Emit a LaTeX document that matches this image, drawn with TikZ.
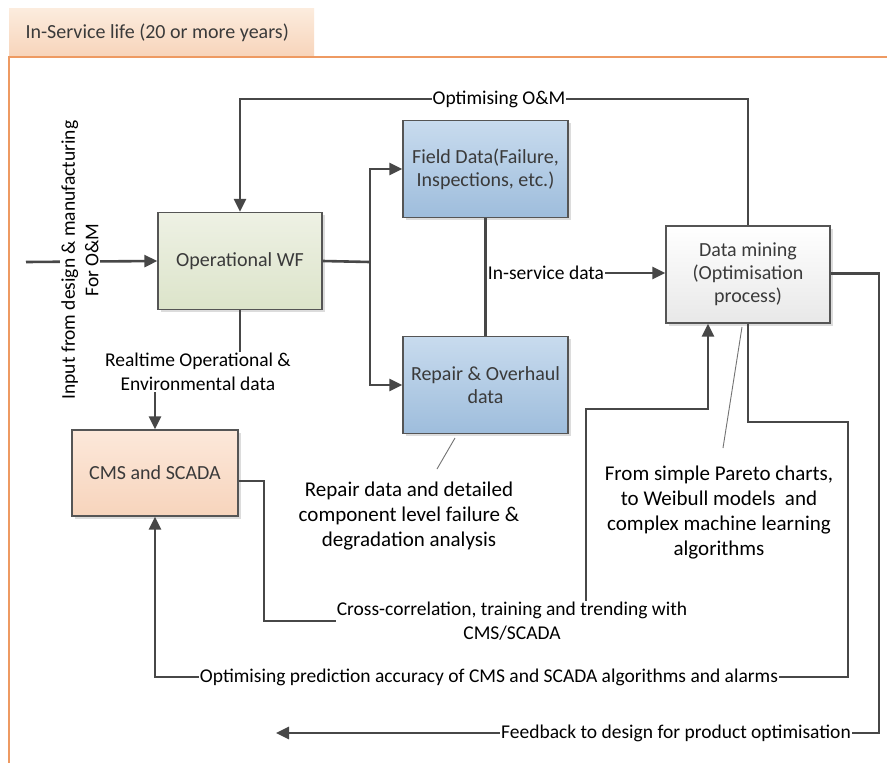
\documentclass[tikz,border=0pt]{standalone}
\usepackage{fontspec}
\setmainfont{Carlito}
\usetikzlibrary{arrows.meta,shadows}
\definecolor{lineg}{HTML}{474747}
\definecolor{boxline}{HTML}{555555}
\definecolor{boxtext}{HTML}{3A3A3A}
\definecolor{frameorange}{HTML}{EE9A62}
\tikzset{
  boxbase/.style={draw=boxline, line width=1.3pt, minimum width=164pt, minimum height=97pt,
    align=center, text=boxtext, font=\fontsize{20}{23}\selectfont,
    drop shadow={shadow xshift=2.5pt, shadow yshift=-2.5pt, fill=black!30, opacity=.45}},
  opbox/.style={boxbase, top color={rgb,255:red,238;green,241;blue,228}, bottom color={rgb,255:red,220;green,228;blue,202}},
  bluebox/.style={boxbase, minimum width=165pt, top color={rgb,255:red,200;green,219;blue,238}, bottom color={rgb,255:red,158;green,189;blue,220}},
  dmbox/.style={boxbase, top color=white, bottom color=black!9},
  cmsbox/.style={boxbase, minimum width=166pt, minimum height=86pt, top color={rgb,255:red,252;green,232;blue,218}, bottom color={rgb,255:red,247;green,212;blue,188}},
  conn/.style={draw=lineg, line width=2.6pt},
  arr/.style={conn, -{Triangle[length=13pt,width=12pt]}},
  lab/.style={fill=white, inner sep=1pt, align=center, text=black, font=\fontsize{19.5}{23.5}\selectfont},
  note/.style={align=center, text=black, font=\fontsize{21}{25}\selectfont},
  callout/.style={draw=black!55, line width=0.9pt}
}
\begin{document}
\begin{tikzpicture}[x=1pt,y=-1pt]
\useasboundingbox (0,0) rectangle (887,763);
\fill[white] (0,0) rectangle (887,763);

% header tab and frame
\shade[top color={rgb,255:red,252;green,236;blue,222}, bottom color={rgb,255:red,247;green,212;blue,186}] (9,8) rectangle (314,57);
\node[anchor=west, text=boxtext, font=\fontsize{20}{24}\selectfont] (tabtext) at (22,33) {In-Service life (20 or more years)};
\draw[frameorange, line width=1.4pt] (887,57) -- (9,57) -- (9,763);

% main blocks
\node[opbox]  (op)     at (240,261)   {Operational WF};
\node[bluebox] (field) at (485.5,169) {Field Data(Failure,\\Inspections, etc.)};
\node[bluebox] (repair) at (485.5,385) {Repair \& Overhaul\\data};
\node[dmbox]  (dm)     at (748,274.5) {Data mining\\(Optimisation\\process)};
\node[cmsbox] (cms)    at (155,473)   {CMS and SCADA};

% branch points and route corners
\coordinate (inL)   at (26,262);
\coordinate (split) at (370,262);
\coordinate (omL)   at (240,99);
\coordinate (omR)   at (748,99);
\coordinate (rtA)   at (240,372);
\coordinate (rtB)   at (155,372);
\coordinate (mid)   at (486,273);
\coordinate (fbA)   at (879,273.5);
\coordinate (fbB)   at (879,733);
\coordinate (fbEnd) at (276,733);
\coordinate (pdA)   at (748,422);
\coordinate (pdB)   at (848,422);
\coordinate (pdC)   at (848,677);
\coordinate (pdD)   at (155,677);
\coordinate (ccA)   at (264,481);
\coordinate (ccB)   at (264,621);
\coordinate (ccC)   at (586,621);
\coordinate (ccD)   at (586,409);
\coordinate (ccE)   at (708,409);

% connectors
\draw[arr] (inL) -- (op.west);
\draw[conn] (op.east) -- (split);
\draw[arr] (split) |- (field.west);
\draw[arr] (split) |- (repair.west);
\draw[arr] (dm.north) -- (omR) -- (omL) -- (op.north);
\draw[arr] (op.south) -- (rtA) -- (rtB) -- (cms.north);
\draw[conn] (field.south) -- (repair.north);
\draw[arr] (mid) -- (dm.west |- mid);
\draw[arr] (dm.east |- fbA) -- (fbA) -- (fbB) -- (fbEnd);
\draw[arr] (dm.south) -- (pdA) -- (pdB) -- (pdC) -- (pdD) -- (cms.south);
\draw[arr] (cms.east |- ccA) -- (ccA) -- (ccB) -- (ccC) -- (ccD) -- (ccE) -- (ccE |- dm.south);

% connector labels
\node[lab, rotate=90] (inlab) at (80,260) {Input from design \& manufacturing\\For O\&M};
\node[lab] (omlab) at (499,99) {Optimising O\&M};
\node[lab] (rtlab) at (198,372) {Realtime Operational \&\\Environmental data};
\node[lab, inner sep=0.5pt] (islab) at (546,273) {In-service data};
\node[lab] (cclab) at (512,621) {Cross-correlation, training and trending with\\CMS/SCADA};
\node[lab] (pdlab) at (489,677) {Optimising prediction accuracy of CMS and SCADA algorithms and alarms};
\node[lab] (fblab) at (676,733) {Feedback to design for product optimisation};

% annotations with callout lines
\node[note] (rnote) at (409,516) {Repair data and detailed\\component level failure \&\\degradation analysis};
\node[note] (dnote) at (719,513) {From simple Pareto charts,\\to Weibull models\ \ and\\complex machine learning\\algorithms};
\draw[white, line width=1.2pt] (457,439) -- (439,470);
\draw[callout] (455,438) -- (437,469);
\draw[white, line width=1.2pt] (744,328) -- (725,449);
\draw[callout] (742,327) -- (723,448);
\end{tikzpicture}
\end{document}
